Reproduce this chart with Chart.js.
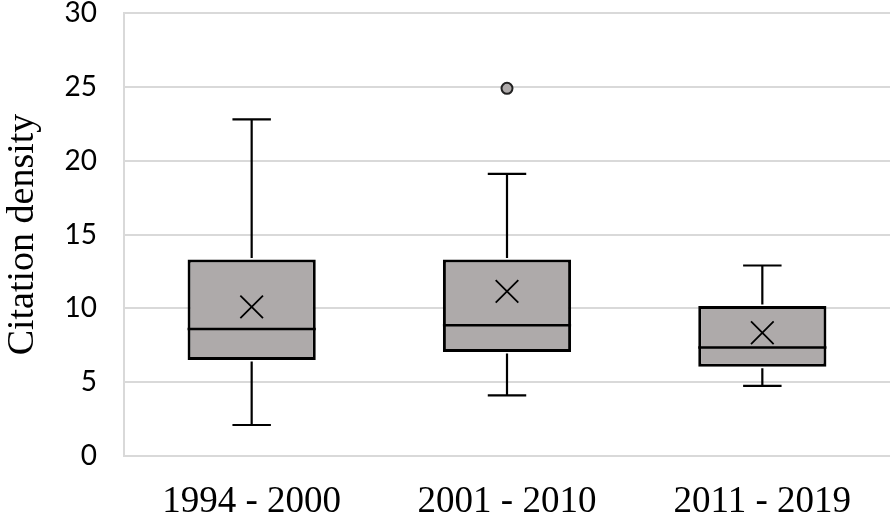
<!DOCTYPE html>
<html>
<head>
<meta charset="utf-8">
<script src="https://cdn.jsdelivr.net/npm/chart.js@4/dist/chart.umd.min.js"></script>
<style>
  html, body { margin: 0; padding: 0; background: #fff; }
  #wrap { width: 893px; height: 514px; }
</style>
</head>
<body>
<div id="wrap"><canvas id="myChart" width="893" height="514"></canvas></div>
<script>
// box plot values
const cats = ['1994 - 2000', '2001 - 2010', '2011 - 2019'];
const minVals = [2.1, 4.1, 4.75];
const q1Vals = [6.5, 7.05, 6.05];
const medianVals = [8.6, 8.85, 7.35];
const q3Vals = [13.3, 13.3, 10.15];
const maxVals = [22.8, 19.1, 12.9];
const meanVals = [10.1, 11.15, 8.35];
const outlierVals = [[], [24.9], []];
const yTicks = [0, 5, 10, 15, 20, 25, 30];

const boxFill = '#aeaaaa';
const gridColor = '#d9d9d9';
const BOX_DS = 2; // index of the bar dataset holding q1..q3

// whiskers and median lines, placed with the chart's own scales
const boxExtras = {
  id: 'boxExtras',
  afterDatasetsDraw(chart) {
    const { ctx, scales: { x, y } } = chart;
    const bars = chart.getDatasetMeta(BOX_DS).data;
    ctx.save();
    ctx.strokeStyle = '#000';
    cats.forEach((c, i) => {
      const cx = x.getPixelForValue(i);
      const w = bars[i].width;
      const cap = w * 0.15;
      const yMax = y.getPixelForValue(maxVals[i]);
      const yMin = y.getPixelForValue(minVals[i]);
      const yQ1 = y.getPixelForValue(q1Vals[i]);
      const yQ3 = y.getPixelForValue(q3Vals[i]);
      const yMed = y.getPixelForValue(medianVals[i]);

      ctx.lineWidth = 2.2;
      ctx.beginPath();
      ctx.moveTo(cx, yQ3 - 1.5);
      ctx.lineTo(cx, yMax);
      ctx.moveTo(cx - cap, yMax);
      ctx.lineTo(cx + cap, yMax);
      ctx.moveTo(cx, yQ1 + 1.5);
      ctx.lineTo(cx, yMin);
      ctx.moveTo(cx - cap, yMin);
      ctx.lineTo(cx + cap, yMin);
      ctx.stroke();

      ctx.lineWidth = 2.5;
      ctx.beginPath();
      ctx.moveTo(cx - w / 2, yMed);
      ctx.lineTo(cx + w / 2, yMed);
      ctx.stroke();
    });
    ctx.restore();
  }
};

const outlierPoints = [];
outlierVals.forEach((list, i) => {
  list.forEach(v => outlierPoints.push({ x: cats[i], y: v }));
});

new Chart(document.getElementById('myChart'), {
  type: 'bar',
  data: {
    labels: cats,
    datasets: [
      {
        type: 'line',
        data: meanVals,
        showLine: false,
        pointStyle: 'crossRot',
        pointRadius: 16,
        pointBorderWidth: 1.8,
        pointBorderColor: '#000',
        pointBackgroundColor: '#000'
      },
      {
        type: 'line',
        data: outlierPoints,
        showLine: false,
        pointStyle: 'circle',
        pointRadius: 5.5,
        pointBorderWidth: 2,
        pointBorderColor: '#222',
        pointBackgroundColor: boxFill
      },
      {
        data: cats.map((c, i) => [q1Vals[i], q3Vals[i]]),
        backgroundColor: boxFill,
        borderColor: '#000',
        borderWidth: 3,
        borderSkipped: false,
        barPercentage: 0.502,
        categoryPercentage: 1
      }
    ]
  },
  options: {
    responsive: false,
    animation: false,
    layout: { autoPadding: false, padding: { top: 13, right: 3, left: 0, bottom: 0 } },
    plugins: {
      legend: { display: false },
      tooltip: { enabled: false }
    },
    scales: {
      x: {
        grid: { display: false },
        border: { display: false },
        ticks: {
          color: '#000',
          padding: 16,
          font: { family: 'Liberation Serif', size: 37 }
        },
        afterFit: scale => { scale.height = 58; }
      },
      y: {
        min: 0,
        max: 30,
        afterBuildTicks: scale => { scale.ticks = yTicks.map(v => ({ value: v })); },
        grid: { color: gridColor, lineWidth: 2, drawTicks: false },
        border: { display: true, color: gridColor, width: 2 },
        ticks: {
          color: '#000',
          padding: 27,
          font: { family: 'Lato', size: 28, lineHeight: 0.8 }
        },
        title: {
          display: true,
          text: 'Citation density',
          color: '#000',
          padding: 0,
          font: { family: 'Liberation Serif', size: 38 }
        },
        afterFit: scale => {
          scale.width = 124;
          // tick padding would otherwise push the plot top down
          scale.paddingTop = 0;
          scale.paddingBottom = 0;
        }
      }
    }
  },
  plugins: [boxExtras]
});
</script>
</body>
</html>
